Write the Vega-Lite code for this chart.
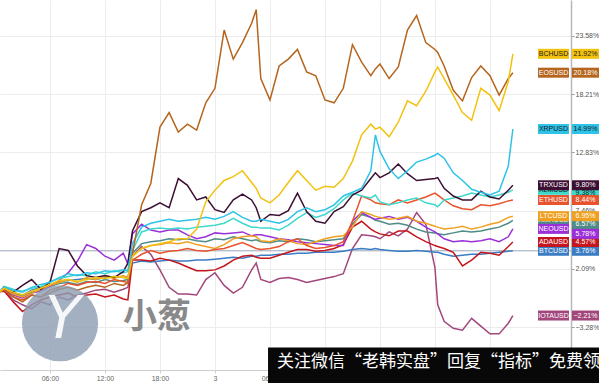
{
  "$schema": "https://vega.github.io/schema/vega-lite/v6.json",
  "width": 571,
  "height": 370,
  "autosize": {"type": "none"},
  "padding": {"left": 0, "top": 0, "right": 28, "bottom": 13},
  "background": "white",
  "config": {"view": {"stroke": null}, "font": "Liberation Sans"},
  "datasets": {
    "prices": [
      {"t":0.55,"BCHUSD":0,"EOSUSD":0,"XRPUSD":0,"TRXUSD":0,"XLMUSD":0,"ETHUSD":0,"LTCUSD":0,"XMRUSD":0,"NEOUSD":0,"ADAUSD":0,"BTCUSD":0,"IOTAUSD":0},
      {"t":1,"BCHUSD":0.30,"EOSUSD":0.21,"XRPUSD":0.39,"TRXUSD":0.39,"XLMUSD":0.48,"ETHUSD":0.13,"LTCUSD":0.30,"XMRUSD":0.39,"NEOUSD":0.21,"ADAUSD":0.04,"BTCUSD":0.21,"IOTAUSD":0.13},
      {"t":2,"BCHUSD":-0.05,"EOSUSD":-0.50,"XRPUSD":0.13,"TRXUSD":-0.05,"XLMUSD":0.21,"ETHUSD":-0.50,"LTCUSD":-0.23,"XMRUSD":-0.14,"NEOUSD":-0.32,"ADAUSD":-0.95,"BTCUSD":-0.14,"IOTAUSD":-0.77},
      {"t":3,"BCHUSD":-0.32,"EOSUSD":-0.95,"XRPUSD":-0.05,"TRXUSD":0.57,"XLMUSD":0.04,"ETHUSD":-0.77,"LTCUSD":-0.50,"XMRUSD":-0.41,"NEOUSD":-0.59,"ADAUSD":-1.84,"BTCUSD":-0.32,"IOTAUSD":-1.22},
      {"t":4,"BCHUSD":0.04,"EOSUSD":-0.32,"XRPUSD":0.39,"TRXUSD":1.11,"XLMUSD":0.30,"ETHUSD":-0.32,"LTCUSD":-0.14,"XMRUSD":-0.05,"NEOUSD":-0.14,"ADAUSD":-1.22,"BTCUSD":0.13,"IOTAUSD":-1.58},
      {"t":5,"BCHUSD":0.30,"EOSUSD":-0.50,"XRPUSD":0.66,"TRXUSD":0.21,"XLMUSD":0.48,"ETHUSD":-0.50,"LTCUSD":0.21,"XMRUSD":0.13,"NEOUSD":0.04,"ADAUSD":-0.77,"BTCUSD":0.39,"IOTAUSD":-0.95},
      {"t":6,"BCHUSD":0.66,"EOSUSD":-0.14,"XRPUSD":0.84,"TRXUSD":0.84,"XLMUSD":0.93,"ETHUSD":0.13,"LTCUSD":0.57,"XMRUSD":0.48,"NEOUSD":0.48,"ADAUSD":-0.50,"BTCUSD":0.57,"IOTAUSD":-1.22},
      {"t":7,"BCHUSD":1.02,"EOSUSD":0.21,"XRPUSD":1.29,"TRXUSD":3.97,"XLMUSD":1.20,"ETHUSD":0.39,"LTCUSD":0.84,"XMRUSD":0.75,"NEOUSD":1.02,"ADAUSD":-0.32,"BTCUSD":0.93,"IOTAUSD":-0.50},
      {"t":8,"BCHUSD":1.11,"EOSUSD":0.39,"XRPUSD":1.65,"TRXUSD":3.79,"XLMUSD":1.38,"ETHUSD":0.75,"LTCUSD":1.11,"XMRUSD":0.84,"NEOUSD":1.74,"ADAUSD":-0.14,"BTCUSD":1.02,"IOTAUSD":-0.77},
      {"t":9,"BCHUSD":0.93,"EOSUSD":0.13,"XRPUSD":1.47,"TRXUSD":2.36,"XLMUSD":1.56,"ETHUSD":0.57,"LTCUSD":0.84,"XMRUSD":0.66,"NEOUSD":2.81,"ADAUSD":-0.50,"BTCUSD":1.11,"IOTAUSD":-0.32},
      {"t":10,"BCHUSD":1.11,"EOSUSD":0.39,"XRPUSD":1.74,"TRXUSD":1.47,"XLMUSD":1.47,"ETHUSD":0.84,"LTCUSD":1.29,"XMRUSD":0.93,"NEOUSD":4.33,"ADAUSD":-0.32,"BTCUSD":1.20,"IOTAUSD":-0.14},
      {"t":11,"BCHUSD":1.29,"EOSUSD":0.57,"XRPUSD":1.65,"TRXUSD":1.29,"XLMUSD":1.83,"ETHUSD":0.93,"LTCUSD":1.11,"XMRUSD":0.84,"NEOUSD":3.97,"ADAUSD":-0.23,"BTCUSD":1.11,"IOTAUSD":0.13},
      {"t":12,"BCHUSD":1.20,"EOSUSD":0.39,"XRPUSD":1.92,"TRXUSD":1.47,"XLMUSD":1.65,"ETHUSD":0.75,"LTCUSD":1.38,"XMRUSD":1.11,"NEOUSD":3.26,"ADAUSD":-0.50,"BTCUSD":1.29,"IOTAUSD":0.21},
      {"t":13,"BCHUSD":1.38,"EOSUSD":0.75,"XRPUSD":1.83,"TRXUSD":1.29,"XLMUSD":1.92,"ETHUSD":1.11,"LTCUSD":1.20,"XMRUSD":0.93,"NEOUSD":2.90,"ADAUSD":-0.32,"BTCUSD":1.38,"IOTAUSD":-0.05},
      {"t":14,"BCHUSD":1.29,"EOSUSD":0.57,"XRPUSD":2.00,"TRXUSD":1.83,"XLMUSD":1.74,"ETHUSD":0.93,"LTCUSD":1.47,"XMRUSD":1.02,"NEOUSD":3.53,"ADAUSD":-0.68,"BTCUSD":1.29,"IOTAUSD":0.21},
      {"t":14.5,"BCHUSD":1.20,"EOSUSD":0.84,"XRPUSD":1.92,"TRXUSD":2.63,"XLMUSD":1.83,"ETHUSD":0.84,"LTCUSD":1.29,"XMRUSD":1.11,"NEOUSD":2.54,"ADAUSD":-0.77,"BTCUSD":1.38,"IOTAUSD":0.39},
      {"t":15,"BCHUSD":3.26,"EOSUSD":3.53,"XRPUSD":4.42,"TRXUSD":5.58,"XLMUSD":3.79,"ETHUSD":2.90,"LTCUSD":3.26,"XMRUSD":3.53,"NEOUSD":5.32,"ADAUSD":2.90,"BTCUSD":2.63,"IOTAUSD":3.26},
      {"t":16,"BCHUSD":3.97,"EOSUSD":8.00,"XRPUSD":5.94,"TRXUSD":7.37,"XLMUSD":5.50,"ETHUSD":3.44,"LTCUSD":3.97,"XMRUSD":4.42,"NEOUSD":6.21,"ADAUSD":2.90,"BTCUSD":2.81,"IOTAUSD":4.15},
      {"t":17,"BCHUSD":4.24,"EOSUSD":9.97,"XRPUSD":6.30,"TRXUSD":7.73,"XLMUSD":5.76,"ETHUSD":3.79,"LTCUSD":4.24,"XMRUSD":4.60,"NEOUSD":5.67,"ADAUSD":2.81,"BTCUSD":2.72,"IOTAUSD":3.44},
      {"t":18,"BCHUSD":4.42,"EOSUSD":15.16,"XRPUSD":6.48,"TRXUSD":8.18,"XLMUSD":5.85,"ETHUSD":3.53,"LTCUSD":4.33,"XMRUSD":4.69,"NEOUSD":5.50,"ADAUSD":3.08,"BTCUSD":2.81,"IOTAUSD":2.00},
      {"t":19,"BCHUSD":4.60,"EOSUSD":16.50,"XRPUSD":6.66,"TRXUSD":7.73,"XLMUSD":5.76,"ETHUSD":3.71,"LTCUSD":4.51,"XMRUSD":4.87,"NEOUSD":5.67,"ADAUSD":2.90,"BTCUSD":2.90,"IOTAUSD":0.39},
      {"t":20,"BCHUSD":4.87,"EOSUSD":14.71,"XRPUSD":6.48,"TRXUSD":10.42,"XLMUSD":5.85,"ETHUSD":3.79,"LTCUSD":4.42,"XMRUSD":4.78,"NEOUSD":5.67,"ADAUSD":2.63,"BTCUSD":2.81,"IOTAUSD":-0.23},
      {"t":21,"BCHUSD":4.87,"EOSUSD":15.43,"XRPUSD":6.57,"TRXUSD":9.79,"XLMUSD":5.76,"ETHUSD":3.97,"LTCUSD":4.60,"XMRUSD":4.87,"NEOUSD":5.23,"ADAUSD":2.27,"BTCUSD":2.81,"IOTAUSD":-0.23},
      {"t":22,"BCHUSD":5.76,"EOSUSD":14.89,"XRPUSD":6.66,"TRXUSD":8.45,"XLMUSD":5.94,"ETHUSD":3.79,"LTCUSD":4.33,"XMRUSD":4.69,"NEOUSD":4.87,"ADAUSD":1.92,"BTCUSD":2.90,"IOTAUSD":-0.32},
      {"t":23,"BCHUSD":8.27,"EOSUSD":17.40,"XRPUSD":6.84,"TRXUSD":8.72,"XLMUSD":6.03,"ETHUSD":3.71,"LTCUSD":4.15,"XMRUSD":4.60,"NEOUSD":5.05,"ADAUSD":1.92,"BTCUSD":2.90,"IOTAUSD":1.11},
      {"t":24,"BCHUSD":9.35,"EOSUSD":18.74,"XRPUSD":6.66,"TRXUSD":7.55,"XLMUSD":6.12,"ETHUSD":3.88,"LTCUSD":3.97,"XMRUSD":4.87,"NEOUSD":5.41,"ADAUSD":2.00,"BTCUSD":2.99,"IOTAUSD":1.74},
      {"t":25,"BCHUSD":10.24,"EOSUSD":24.11,"XRPUSD":6.93,"TRXUSD":7.29,"XLMUSD":6.30,"ETHUSD":3.97,"LTCUSD":4.33,"XMRUSD":4.78,"NEOUSD":5.32,"ADAUSD":2.36,"BTCUSD":3.08,"IOTAUSD":0.57},
      {"t":26,"BCHUSD":10.60,"EOSUSD":21.43,"XRPUSD":7.37,"TRXUSD":8.45,"XLMUSD":6.75,"ETHUSD":4.24,"LTCUSD":4.87,"XMRUSD":5.05,"NEOUSD":5.41,"ADAUSD":2.90,"BTCUSD":3.17,"IOTAUSD":-0.14},
      {"t":27,"BCHUSD":11.14,"EOSUSD":22.95,"XRPUSD":6.84,"TRXUSD":8.99,"XLMUSD":6.30,"ETHUSD":4.51,"LTCUSD":5.05,"XMRUSD":4.87,"NEOUSD":5.50,"ADAUSD":3.26,"BTCUSD":3.08,"IOTAUSD":0.39},
      {"t":28,"BCHUSD":10.06,"EOSUSD":24.74,"XRPUSD":6.48,"TRXUSD":8.45,"XLMUSD":5.94,"ETHUSD":4.15,"LTCUSD":5.14,"XMRUSD":4.69,"NEOUSD":5.14,"ADAUSD":3.35,"BTCUSD":3.26,"IOTAUSD":2.00},
      {"t":28.5,"BCHUSD":9.52,"EOSUSD":25.99,"XRPUSD":6.48,"TRXUSD":7.73,"XLMUSD":5.94,"ETHUSD":3.97,"LTCUSD":5.05,"XMRUSD":4.78,"NEOUSD":5.23,"ADAUSD":3.17,"BTCUSD":3.26,"IOTAUSD":2.63},
      {"t":29,"BCHUSD":8.63,"EOSUSD":19.64,"XRPUSD":6.66,"TRXUSD":6.48,"XLMUSD":5.85,"ETHUSD":3.88,"LTCUSD":4.69,"XMRUSD":4.60,"NEOUSD":5.23,"ADAUSD":3.08,"BTCUSD":3.35,"IOTAUSD":1.11},
      {"t":30,"BCHUSD":8.18,"EOSUSD":17.67,"XRPUSD":6.48,"TRXUSD":7.11,"XLMUSD":5.85,"ETHUSD":3.97,"LTCUSD":4.60,"XMRUSD":4.51,"NEOUSD":5.05,"ADAUSD":3.08,"BTCUSD":3.35,"IOTAUSD":0.84},
      {"t":31,"BCHUSD":8.90,"EOSUSD":20.80,"XRPUSD":6.30,"TRXUSD":7.02,"XLMUSD":5.67,"ETHUSD":4.15,"LTCUSD":4.87,"XMRUSD":4.69,"NEOUSD":4.87,"ADAUSD":3.35,"BTCUSD":3.44,"IOTAUSD":1.20},
      {"t":32,"BCHUSD":10.06,"EOSUSD":21.43,"XRPUSD":6.66,"TRXUSD":7.46,"XLMUSD":6.12,"ETHUSD":4.60,"LTCUSD":4.69,"XMRUSD":4.60,"NEOUSD":4.78,"ADAUSD":3.62,"BTCUSD":3.44,"IOTAUSD":1.29},
      {"t":33,"BCHUSD":11.14,"EOSUSD":22.32,"XRPUSD":7.37,"TRXUSD":9.08,"XLMUSD":6.75,"ETHUSD":4.87,"LTCUSD":4.42,"XMRUSD":4.87,"NEOUSD":4.60,"ADAUSD":3.88,"BTCUSD":3.53,"IOTAUSD":1.11},
      {"t":34,"BCHUSD":10.24,"EOSUSD":20.26,"XRPUSD":7.73,"TRXUSD":7.37,"XLMUSD":7.29,"ETHUSD":4.24,"LTCUSD":4.33,"XMRUSD":4.78,"NEOUSD":4.51,"ADAUSD":3.88,"BTCUSD":3.53,"IOTAUSD":0.84},
      {"t":35,"BCHUSD":9.35,"EOSUSD":19.90,"XRPUSD":7.37,"TRXUSD":6.48,"XLMUSD":6.84,"ETHUSD":3.97,"LTCUSD":4.60,"XMRUSD":4.60,"NEOUSD":4.42,"ADAUSD":3.71,"BTCUSD":3.62,"IOTAUSD":1.02},
      {"t":36,"BCHUSD":9.70,"EOSUSD":17.67,"XRPUSD":7.55,"TRXUSD":6.30,"XLMUSD":7.11,"ETHUSD":4.06,"LTCUSD":4.87,"XMRUSD":4.69,"NEOUSD":4.33,"ADAUSD":3.79,"BTCUSD":3.62,"IOTAUSD":1.20},
      {"t":37,"BCHUSD":9.61,"EOSUSD":17.40,"XRPUSD":8.00,"TRXUSD":7.37,"XLMUSD":7.64,"ETHUSD":4.24,"LTCUSD":5.05,"XMRUSD":4.78,"NEOUSD":4.24,"ADAUSD":3.97,"BTCUSD":3.62,"IOTAUSD":1.38},
      {"t":38,"BCHUSD":10.42,"EOSUSD":18.74,"XRPUSD":8.81,"TRXUSD":7.82,"XLMUSD":8.45,"ETHUSD":4.60,"LTCUSD":5.14,"XMRUSD":4.87,"NEOUSD":4.24,"ADAUSD":4.33,"BTCUSD":3.71,"IOTAUSD":1.65},
      {"t":39,"BCHUSD":12.03,"EOSUSD":22.77,"XRPUSD":9.16,"TRXUSD":8.90,"XLMUSD":9.08,"ETHUSD":6.48,"LTCUSD":5.94,"XMRUSD":6.21,"NEOUSD":6.48,"ADAUSD":5.94,"BTCUSD":3.88,"IOTAUSD":3.97},
      {"t":40,"BCHUSD":14.45,"EOSUSD":21.16,"XRPUSD":9.52,"TRXUSD":9.34,"XLMUSD":8.81,"ETHUSD":8.81,"LTCUSD":7.37,"XMRUSD":7.11,"NEOUSD":7.29,"ADAUSD":6.48,"BTCUSD":3.97,"IOTAUSD":5.23},
      {"t":41,"BCHUSD":15.43,"EOSUSD":19.90,"XRPUSD":11.13,"TRXUSD":10.42,"XLMUSD":8.63,"ETHUSD":8.45,"LTCUSD":7.11,"XMRUSD":6.84,"NEOUSD":6.84,"ADAUSD":5.76,"BTCUSD":3.88,"IOTAUSD":5.14},
      {"t":41.5,"BCHUSD":14.98,"EOSUSD":20.53,"XRPUSD":14.45,"TRXUSD":10.95,"XLMUSD":8.90,"ETHUSD":8.18,"LTCUSD":6.93,"XMRUSD":6.57,"NEOUSD":6.66,"ADAUSD":5.50,"BTCUSD":3.97,"IOTAUSD":5.05},
      {"t":42,"BCHUSD":15.16,"EOSUSD":20.98,"XRPUSD":12.92,"TRXUSD":10.51,"XLMUSD":8.27,"ETHUSD":8.09,"LTCUSD":6.84,"XMRUSD":6.48,"NEOUSD":6.75,"ADAUSD":5.32,"BTCUSD":3.88,"IOTAUSD":4.87},
      {"t":43,"BCHUSD":14.27,"EOSUSD":19.64,"XRPUSD":11.31,"TRXUSD":10.95,"XLMUSD":8.00,"ETHUSD":8.00,"LTCUSD":6.66,"XMRUSD":6.21,"NEOUSD":6.93,"ADAUSD":5.14,"BTCUSD":3.79,"IOTAUSD":5.50},
      {"t":44,"BCHUSD":15.61,"EOSUSD":20.71,"XRPUSD":10.42,"TRXUSD":11.76,"XLMUSD":8.18,"ETHUSD":8.45,"LTCUSD":6.75,"XMRUSD":6.30,"NEOUSD":6.66,"ADAUSD":5.58,"BTCUSD":3.71,"IOTAUSD":5.14},
      {"t":45,"BCHUSD":17.58,"EOSUSD":24.11,"XRPUSD":11.13,"TRXUSD":10.87,"XLMUSD":8.45,"ETHUSD":8.18,"LTCUSD":6.93,"XMRUSD":6.12,"NEOUSD":6.84,"ADAUSD":5.58,"BTCUSD":3.71,"IOTAUSD":5.76},
      {"t":46,"BCHUSD":17.13,"EOSUSD":25.45,"XRPUSD":11.94,"TRXUSD":10.24,"XLMUSD":8.63,"ETHUSD":8.45,"LTCUSD":6.48,"XMRUSD":5.76,"NEOUSD":6.48,"ADAUSD":5.05,"BTCUSD":3.79,"IOTAUSD":7.29},
      {"t":47,"BCHUSD":18.47,"EOSUSD":22.95,"XRPUSD":12.21,"TRXUSD":10.33,"XLMUSD":8.18,"ETHUSD":8.72,"LTCUSD":6.30,"XMRUSD":5.50,"NEOUSD":5.94,"ADAUSD":4.60,"BTCUSD":3.71,"IOTAUSD":6.21},
      {"t":48,"BCHUSD":20.26,"EOSUSD":22.32,"XRPUSD":12.57,"TRXUSD":10.42,"XLMUSD":8.00,"ETHUSD":9.08,"LTCUSD":6.03,"XMRUSD":5.41,"NEOUSD":5.50,"ADAUSD":4.24,"BTCUSD":3.62,"IOTAUSD":2.18},
      {"t":48.3,"BCHUSD":20.71,"EOSUSD":22.05,"XRPUSD":12.74,"TRXUSD":10.51,"XLMUSD":7.82,"ETHUSD":8.90,"LTCUSD":5.94,"XMRUSD":5.32,"NEOUSD":5.32,"ADAUSD":4.15,"BTCUSD":3.62,"IOTAUSD":-1.22},
      {"t":49,"BCHUSD":19.64,"EOSUSD":20.80,"XRPUSD":12.30,"TRXUSD":9.52,"XLMUSD":8.45,"ETHUSD":8.45,"LTCUSD":5.76,"XMRUSD":5.23,"NEOUSD":4.87,"ADAUSD":3.97,"BTCUSD":3.44,"IOTAUSD":-2.74},
      {"t":50,"BCHUSD":18.11,"EOSUSD":18.56,"XRPUSD":10.95,"TRXUSD":8.81,"XLMUSD":8.63,"ETHUSD":7.91,"LTCUSD":5.85,"XMRUSD":5.41,"NEOUSD":4.60,"ADAUSD":3.62,"BTCUSD":3.26,"IOTAUSD":-3.38},
      {"t":51,"BCHUSD":16.50,"EOSUSD":17.58,"XRPUSD":10.24,"TRXUSD":8.45,"XLMUSD":8.81,"ETHUSD":7.64,"LTCUSD":6.03,"XMRUSD":5.58,"NEOUSD":4.69,"ADAUSD":2.36,"BTCUSD":3.35,"IOTAUSD":-3.56},
      {"t":52,"BCHUSD":15.79,"EOSUSD":19.73,"XRPUSD":9.43,"TRXUSD":8.45,"XLMUSD":9.08,"ETHUSD":7.55,"LTCUSD":5.76,"XMRUSD":5.50,"NEOUSD":4.60,"ADAUSD":2.90,"BTCUSD":3.44,"IOTAUSD":-2.47},
      {"t":53,"BCHUSD":18.74,"EOSUSD":20.80,"XRPUSD":9.16,"TRXUSD":9.25,"XLMUSD":8.90,"ETHUSD":8.00,"LTCUSD":5.94,"XMRUSD":5.58,"NEOUSD":4.69,"ADAUSD":3.62,"BTCUSD":3.44,"IOTAUSD":-3.19},
      {"t":54,"BCHUSD":18.11,"EOSUSD":19.90,"XRPUSD":8.90,"TRXUSD":8.72,"XLMUSD":8.72,"ETHUSD":7.91,"LTCUSD":6.21,"XMRUSD":5.76,"NEOUSD":4.87,"ADAUSD":3.53,"BTCUSD":3.53,"IOTAUSD":-3.90},
      {"t":55,"BCHUSD":16.68,"EOSUSD":18.11,"XRPUSD":9.25,"TRXUSD":8.54,"XLMUSD":8.90,"ETHUSD":8.09,"LTCUSD":6.39,"XMRUSD":5.94,"NEOUSD":4.60,"ADAUSD":3.35,"BTCUSD":3.62,"IOTAUSD":-3.90},
      {"t":56,"BCHUSD":19.37,"EOSUSD":19.64,"XRPUSD":11.58,"TRXUSD":9.34,"XLMUSD":9.16,"ETHUSD":8.36,"LTCUSD":6.84,"XMRUSD":6.30,"NEOUSD":5.05,"ADAUSD":4.15,"BTCUSD":3.71,"IOTAUSD":-2.92},
      {"t":56.5,"BCHUSD":21.92,"EOSUSD":20.18,"XRPUSD":14.99,"TRXUSD":9.80,"XLMUSD":9.38,"ETHUSD":8.44,"LTCUSD":6.95,"XMRUSD":6.57,"NEOUSD":5.78,"ADAUSD":4.57,"BTCUSD":3.76,"IOTAUSD":-2.21}
    ]
  },
  "layer": [
    {
      "data": {"values": [{}]},
      "mark": {"type": "rule", "color": "#9aa8b8", "strokeWidth": 1},
      "encoding": {"y": {"datum": 3.76, "type": "quantitative"}}
    },
    {
      "data": {"name": "prices"},
      "transform": [{"fold": ["IOTAUSD","BTCUSD","ADAUSD","XMRUSD","NEOUSD","LTCUSD","ETHUSD","XLMUSD","TRXUSD","XRPUSD","EOSUSD","BCHUSD"], "as": ["symbol", "pct"]}],
      "mark": {"type": "line", "strokeWidth": 1.5},
      "encoding": {
        "x": {"field": "t", "type": "quantitative",
          "scale": {"domain": [0.55, 62.84], "nice": false, "zero": false},
          "axis": {"title": null, "values": [6,12,18,24,30,36,42,48,54],
            "labelExpr": "datum.value % 24 == 0 ? toString(2 + datum.value / 24) : ((datum.value % 24) < 10 ? '0' : '') + (datum.value % 24) + ':00'",
            "grid": true, "gridColor": "#ececec", "domainColor": "#cfcfcf", "tickColor": "#cfcfcf", "tickSize": 3,
            "labelFontSize": 7, "labelColor": "#666666", "labelPadding": 1, "labelFont": "Liberation Sans"}},
        "y": {"field": "pct", "type": "quantitative",
          "scale": {"domain": [-6.77, 26.42], "nice": false, "zero": false},
          "axis": {"title": null, "orient": "right", "values": [26.27,23.58,20.89,18.21,15.52,12.83,10.15,7.46,4.77,2.09,-0.60,-3.28],
            "labelExpr": "format(datum.value, '.2f') + '%'", "labelOverlap": false, "labelBound": false, "labelFlush": false,
            "grid": true, "gridColor": "#ececec", "domainColor": "#b8b8b8", "domainWidth": 1.5, "tickColor": "#999999", "tickSize": 3,
            "labelFontSize": 7, "labelColor": "#555555", "labelPadding": 1, "labelFont": "Liberation Sans"}},
        "color": {"field": "symbol", "type": "nominal", "legend": null,
          "scale": {"domain": ["IOTAUSD","BTCUSD","ADAUSD","XMRUSD","NEOUSD","LTCUSD","ETHUSD","XLMUSD","TRXUSD","XRPUSD","EOSUSD","BCHUSD"],
            "range": ["#a2477c","#3b7dc4","#c4161c","#4f8b87","#9b30d8","#f0a020","#e8532b","#3fd8cc","#3d0f33","#2ec3e8","#b5651d","#f2c20f"]}}
      }
    },
    {
      "data": {"values": [{}]},
      "mark": {"type": "point", "shape": "circle", "filled": true, "size": 5800, "color": "#8d9fb3", "opacity": 0.82, "strokeWidth": 0},
      "encoding": {"x": {"datum": 7.1, "type": "quantitative"}, "y": {"datum": -2.92, "type": "quantitative"}}
    },
    {
      "data": {"values": [{}]},
      "mark": {"type": "text", "text": "Y", "font": "DejaVu Sans", "fontWeight": "normal", "fontStyle": "italic", "fontSize": 58, "color": "#ffffff", "opacity": 0.9, "align": "center", "baseline": "middle"},
      "encoding": {"x": {"datum": 7.4, "type": "quantitative"}, "y": {"datum": -2.7, "type": "quantitative"}}
    },
    {
      "data": {"values": [{}]},
      "mark": {"type": "text", "text": "小葱", "font": "Noto Sans CJK SC", "fontWeight": "bold", "fontSize": 34, "color": "#7d7d7d", "opacity": 0.9, "align": "center", "baseline": "middle"},
      "encoding": {"x": {"datum": 17.68, "type": "quantitative"}, "y": {"datum": -2.47, "type": "quantitative"}}
    },
    {
      "data": {"name": "prices"},
      "transform": [
        {"fold": ["IOTAUSD","BTCUSD","ADAUSD","XMRUSD","NEOUSD","LTCUSD","ETHUSD","XLMUSD","TRXUSD","XRPUSD","EOSUSD","BCHUSD"], "as": ["symbol", "pct"]},
        {"filter": "datum.t == 56.5 && (datum.symbol == 'XLMUSD' || datum.symbol == 'XMRUSD')"}
      ],
      "layer": [
        {"mark": {"type": "bar", "orient": "horizontal", "size": 10, "clip": false},
         "encoding": {"y": {"field": "pct", "type": "quantitative"}, "x": {"datum": 59.24, "type": "quantitative"}, "x2": {"datum": 62.62}, "color": {"field": "symbol", "type": "nominal", "legend": null}}},
        {"mark": {"type": "text", "fontSize": 7, "font": "Liberation Sans", "align": "center", "baseline": "middle", "clip": false},
         "encoding": {"y": {"field": "pct", "type": "quantitative"}, "x": {"datum": 60.93, "type": "quantitative"}, "text": {"field": "symbol"},
           "color": {"condition": {"test": "indexof(['BCHUSD','XRPUSD','XLMUSD'], datum.symbol) >= 0", "value": "#1a1a1a"}, "value": "#ffffff"}}},
        {"mark": {"type": "bar", "orient": "horizontal", "size": 10, "clip": false, "yOffset": {"expr": "datum.symbol == 'XLMUSD' ? 3 : 4"}},
         "encoding": {"y": {"field": "pct", "type": "quantitative"}, "x": {"datum": 62.95, "type": "quantitative"}, "x2": {"datum": 66.2}, "color": {"field": "symbol", "type": "nominal", "legend": null}}},
        {"mark": {"type": "text", "fontSize": 7, "font": "Liberation Sans", "align": "center", "baseline": "middle", "clip": false, "yOffset": {"expr": "datum.symbol == 'XLMUSD' ? 3 : 4"}, "text": {"expr": "format(datum.pct, '.2f') + '%'"}},
         "encoding": {"y": {"field": "pct", "type": "quantitative"}, "x": {"datum": 64.42, "type": "quantitative"},
           "color": {"condition": {"test": "indexof(['BCHUSD','XRPUSD','XLMUSD'], datum.symbol) >= 0", "value": "#1a1a1a"}, "value": "#ffffff"}}}
      ]
    },
    {
      "data": {"name": "prices"},
      "transform": [
        {"fold": ["IOTAUSD","BTCUSD","ADAUSD","XMRUSD","NEOUSD","LTCUSD","ETHUSD","XLMUSD","TRXUSD","XRPUSD","EOSUSD","BCHUSD"], "as": ["symbol", "pct"]},
        {"filter": "datum.t == 56.5 && datum.symbol != 'XLMUSD' && datum.symbol != 'XMRUSD'"}
      ],
      "layer": [
        {"mark": {"type": "bar", "orient": "horizontal", "size": 10, "clip": false},
         "encoding": {"y": {"field": "pct", "type": "quantitative"}, "x": {"datum": 59.24, "type": "quantitative"}, "x2": {"datum": 62.62}, "color": {"field": "symbol", "type": "nominal", "legend": null}}},
        {"mark": {"type": "text", "fontSize": 7, "font": "Liberation Sans", "align": "center", "baseline": "middle", "clip": false},
         "encoding": {"y": {"field": "pct", "type": "quantitative"}, "x": {"datum": 60.93, "type": "quantitative"}, "text": {"field": "symbol"},
           "color": {"condition": {"test": "indexof(['BCHUSD','XRPUSD','XLMUSD'], datum.symbol) >= 0", "value": "#1a1a1a"}, "value": "#ffffff"}}},
        {"mark": {"type": "bar", "orient": "horizontal", "size": 10, "clip": false, "yOffset": {"expr": "datum.symbol == 'NEOUSD' ? 5 : 0"}},
         "encoding": {"y": {"field": "pct", "type": "quantitative"}, "x": {"datum": 62.95, "type": "quantitative"}, "x2": {"datum": 66.2}, "color": {"field": "symbol", "type": "nominal", "legend": null}}},
        {"mark": {"type": "text", "fontSize": 7, "font": "Liberation Sans", "align": "center", "baseline": "middle", "clip": false, "yOffset": {"expr": "datum.symbol == 'NEOUSD' ? 5 : 0"}, "text": {"expr": "format(datum.pct, '.2f') + '%'"}},
         "encoding": {"y": {"field": "pct", "type": "quantitative"}, "x": {"datum": 64.42, "type": "quantitative"},
           "color": {"condition": {"test": "indexof(['BCHUSD','XRPUSD','XLMUSD'], datum.symbol) >= 0", "value": "#1a1a1a"}, "value": "#ffffff"}}}
      ]
    },
    {
      "data": {"values": [{}]},
      "mark": {"type": "rect", "color": "#080808", "clip": false},
      "encoding": {"x": {"datum": 29.79, "type": "quantitative"}, "x2": {"datum": 66.5}, "y": {"datum": -5.16, "type": "quantitative"}, "y2": {"datum": -8.6}}
    },
    {
      "data": {"values": [{}]},
      "mark": {"type": "text", "text": "关注微信“老韩实盘”回复“指标”免费领", "font": "Noto Sans CJK SC", "fontSize": 17, "color": "#ffffff", "align": "left", "baseline": "middle", "clip": false},
      "encoding": {"x": {"datum": 30.77, "type": "quantitative"}, "y": {"datum": -6.5, "type": "quantitative"}}
    }
  ]
}
